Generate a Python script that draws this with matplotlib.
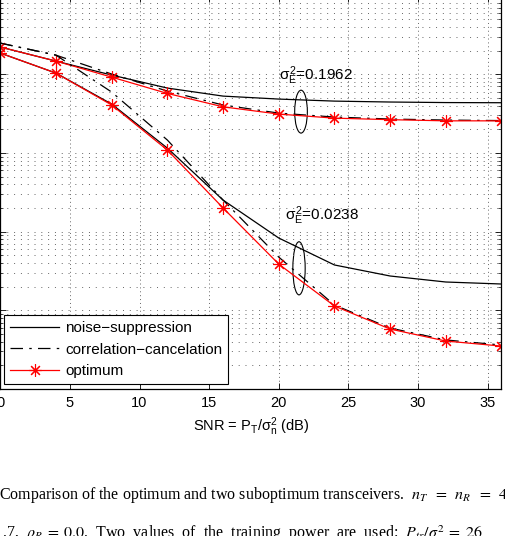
import matplotlib
matplotlib.use("Agg")
import matplotlib.pyplot as plt
from matplotlib.patches import Ellipse
import numpy as np

plt.rcParams['font.family'] = ['Liberation Sans', 'DejaVu Sans']
plt.rcParams['mathtext.fontset'] = 'custom'
plt.rcParams['mathtext.rm'] = 'Liberation Sans'
plt.rcParams['mathtext.it'] = 'Liberation Sans'
plt.rcParams['mathtext.sf'] = 'Liberation Sans'
plt.rcParams['mathtext.bf'] = 'Liberation Sans:bold'

# ---------------- data ----------------
snr_db = [0, 4, 8, 12, 16, 20, 24, 28, 32, 36]

# sigma_E^2 = 0.1962
ns_high = [0.222, 0.147, 0.0977, 0.0668, 0.0528, 0.0484, 0.0456, 0.0444, 0.0437, 0.0435]
cc_high = [0.249, 0.175, 0.1007, 0.0612, 0.0407, 0.0321, 0.0286, 0.0270, 0.0262, 0.0258]
opt_high = [0.222, 0.147, 0.0920, 0.0571, 0.0386, 0.0312, 0.0277, 0.0265, 0.0256, 0.0256]

# sigma_E^2 = 0.0238
ns_low = [0.186, 0.1035, 0.0418, 0.01153, 0.00252, 8.30e-4, 3.77e-4, 2.73e-4, 2.29e-4, 2.16e-4]
cc_low = [0.249, 0.175, 0.0594, 0.01459, 0.00252, 4.75e-4, 1.167e-4, 5.95e-5, 4.20e-5, 3.62e-5]
opt_low = [0.186, 0.1035, 0.0407, 0.01089, 0.00200, 3.87e-4, 1.135e-4, 5.78e-5, 4.07e-5, 3.51e-5]

x_ticks = [0, 5, 10, 15, 20, 25, 30, 35]
labels = ['noise\u2212suppression', 'correlation\u2212cancelation', 'optimum']
ann_high = r'$\sigma_E^2$=0.1962'
ann_low = r'$\sigma_E^2$=0.0238'
xlabel = r'SNR = P$_T$/$\sigma_n^2$ (dB)'
caption1 = (r'Comparison of the optimum and two suboptimum transceivers.  '
            r'$n_T\;\;=\;\;n_R\;\;=\;\;4$, $\rho_T = 0$')
caption2 = (r'.7,  $\rho_R\;=\;0.0$.  Two  values  of  the  training  power  are  used:  '
            r'$P_{tr}/\sigma_n^2\;=\;26$')

# ---------------- figure ----------------
W, H = 506, 536
fig = plt.figure(figsize=(W / 100, H / 100), dpi=100)
ax_left, ax_right = 0.3, 501.5
ax_bottom, ax_top = 389.0, -4.4
ax = fig.add_axes([ax_left / W, (H - ax_bottom) / H,
                   (ax_right - ax_left) / W, (ax_bottom - ax_top) / H])

asterisk = (8, 2, 0)
dashdot = (0, (10, 5, 2, 5))
lw = 0.9

ax.plot(snr_db, ns_high, color='k', lw=lw, label=labels[0])
ax.plot(snr_db, cc_high, color='k', lw=lw, ls=dashdot, label=labels[1])
ax.plot(snr_db, opt_high, color='#ff0000', lw=lw, marker=asterisk, ms=9, mew=0.8, label=labels[2])
ax.plot(snr_db, ns_low, color='k', lw=lw)
ax.plot(snr_db, cc_low, color='k', lw=lw, ls=dashdot)
ax.plot(snr_db, opt_low, color='#ff0000', lw=lw, marker=asterisk, ms=9, mew=0.8)

ax.set_yscale('log')
ax.set_xlim(0, 36)
ax.set_ylim(1e-5, 1)
ax.set_xticks(x_ticks)
ax.set_xticklabels([str(t) for t in x_ticks], fontsize=10.5)
ax.tick_params(axis='both', which='both', direction='in', top=True, right=True)
ax.tick_params(axis='both', which='major', length=4, width=0.6)
ax.tick_params(axis='y', which='minor', length=2, width=0.5)
ax.tick_params(axis='y', labelleft=False)
ax.tick_params(axis='x', pad=5)

ax.grid(True, axis='x', which='major', color='#666666', lw=0.7, ls=(0, (1, 3)))
ax.grid(True, axis='y', which='both', color='#666666', lw=0.7, ls=(0, (1, 6)))
for s in ax.spines.values():
    s.set_linewidth(0.9)

ax.set_xlabel(xlabel, fontsize=10.5, labelpad=4)

# annotations
ax.text(20.0, 0.084, ann_high, fontsize=11, ha='left', va='baseline')
ax.text(20.45, 1.40e-3, ann_low, fontsize=11, ha='left', va='baseline')
ax.add_patch(Ellipse((0.600, 0.705), 0.0253, 0.109, transform=ax.transAxes,
                     fill=False, ec='k', lw=0.8))
ax.add_patch(Ellipse((0.596, 0.3068), 0.0246, 0.135, transform=ax.transAxes,
                     fill=False, ec='k', lw=0.8))

leg = ax.legend(loc='lower left', bbox_to_anchor=(0.0074, 0.0127), borderaxespad=0,
                fontsize=11, fancybox=False, framealpha=1, edgecolor='k',
                handlelength=3.2, handletextpad=0.4, labelspacing=0.48,
                borderpad=0.4)
leg.get_frame().set_linewidth(0.8)

# caption (partially cut, as in the reference)
fig.text(-1 / W, (H - 499) / H, caption1, fontsize=11.5, family='Liberation Serif',
         math_fontfamily='stix', ha='left', va='baseline')
fig.text(2 / W, (H - 538) / H, caption2, fontsize=11.5, family='Liberation Serif',
         math_fontfamily='stix', ha='left', va='baseline')

fig.savefig('out.png', dpi=100)
